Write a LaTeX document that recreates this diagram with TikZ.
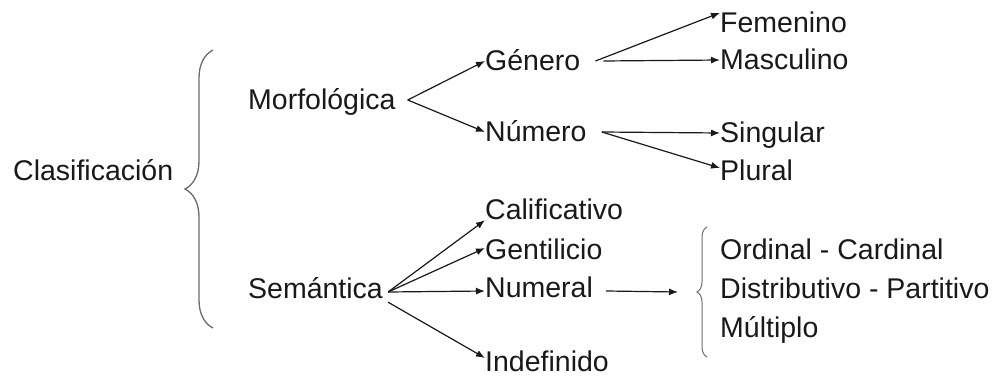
\documentclass[tikz,border=0pt]{standalone}
\usepackage{fontspec}
\setmainfont{Liberation Sans}
\usetikzlibrary{arrows.meta,decorations.pathreplacing}
\definecolor{inkgray}{gray}{0.1}
\definecolor{bracegray}{gray}{0.42}
\tikzset{
  lbl/.style = {anchor = base west, inner sep = 0pt, text height = 20pt, text depth = 0pt,
                text = inkgray, font = \fontsize{28.5}{34}\selectfont},
  arw/.style = {-{Latex[length = 9pt, width = 7pt]}, line width = 1.2pt, color = black!90},
  brc/.style = {decorate, decoration = {brace, amplitude = #1}, color = bracegray, line width = 1.3pt},
}
\begin{document}
\begin{tikzpicture}[x = 1pt, y = -1pt]
\useasboundingbox (0,0) rectangle (1002,379);
% first level
\node[lbl] (clas) at (13,181) {Clasificación};
\coordinate (bigtop) at (213,50);
\coordinate (bigbot) at (213,328);
\draw [brc = 28pt] (bigbot) -- (bigtop);
\node[lbl] (morf) at (248,110) {Morfológica};
\node[lbl] (sem) at (248,299) {Semántica};
% Morfologica
\node[lbl] (gen) at (485,71) {Género};
\node[lbl] (num) at (485,142) {Número};
\node[lbl] (fem) at (720,33) {Femenino};
\node[lbl] (masc) at (720,70) {Masculino};
\node[lbl] (sing) at (720,143) {Singular};
\node[lbl] (plu) at (720,181) {Plural};
\draw [arw] ([xshift = 12pt]morf.east) -- (gen.west);
\draw [arw] ([xshift = 12pt]morf.east) -- (num.west);
\draw [arw] ([xshift = 15pt]gen.east) -- (fem.north west);
\draw [arw] ([xshift = 23pt]gen.east) -- (masc.west);
\draw [arw] ([xshift = 15pt]num.east) -- (sing.west);
\draw [arw] ([xshift = 15pt]num.east) -- ([yshift = 3pt]plu.west);
% Semantica
\node[lbl] (cal) at (485,220) {Calificativo};
\node[lbl] (gent) at (485,260) {Gentilicio};
\node[lbl] (numr) at (485,298) {Numeral};
\node[lbl] (indef) at (485,372) {Indefinido};
\draw [arw] ([xshift = 5pt, yshift = -3pt]sem.east) -- (cal.south west);
\draw [arw] ([xshift = 5pt, yshift = -3pt]sem.east) -- ([yshift = 2pt]gent.west);
\draw [arw] ([xshift = 5pt, yshift = -3pt]sem.east) -- ([yshift = -3pt]numr.west);
\draw [arw] ([xshift = 5pt, yshift = -3pt]sem.south east) -- ([yshift = 4pt]indef.west);
% Numeral
\coordinate (numtip) at (678,292);
\draw [arw] ([xshift = 13pt, yshift = -3pt]numr.east) -- (numtip);
\coordinate (smalltop) at (707,227);
\coordinate (smallbot) at (707,357);
\draw [brc = 10pt, line width = 1pt] (smallbot) -- (smalltop);
\node[lbl] (ord) at (720,260) {Ordinal - Cardinal};
\node[lbl] (dist) at (720,299) {Distributivo - Partitivo};
\node[lbl] (mult) at (720,338) {Múltiplo};
\end{tikzpicture}
\end{document}
